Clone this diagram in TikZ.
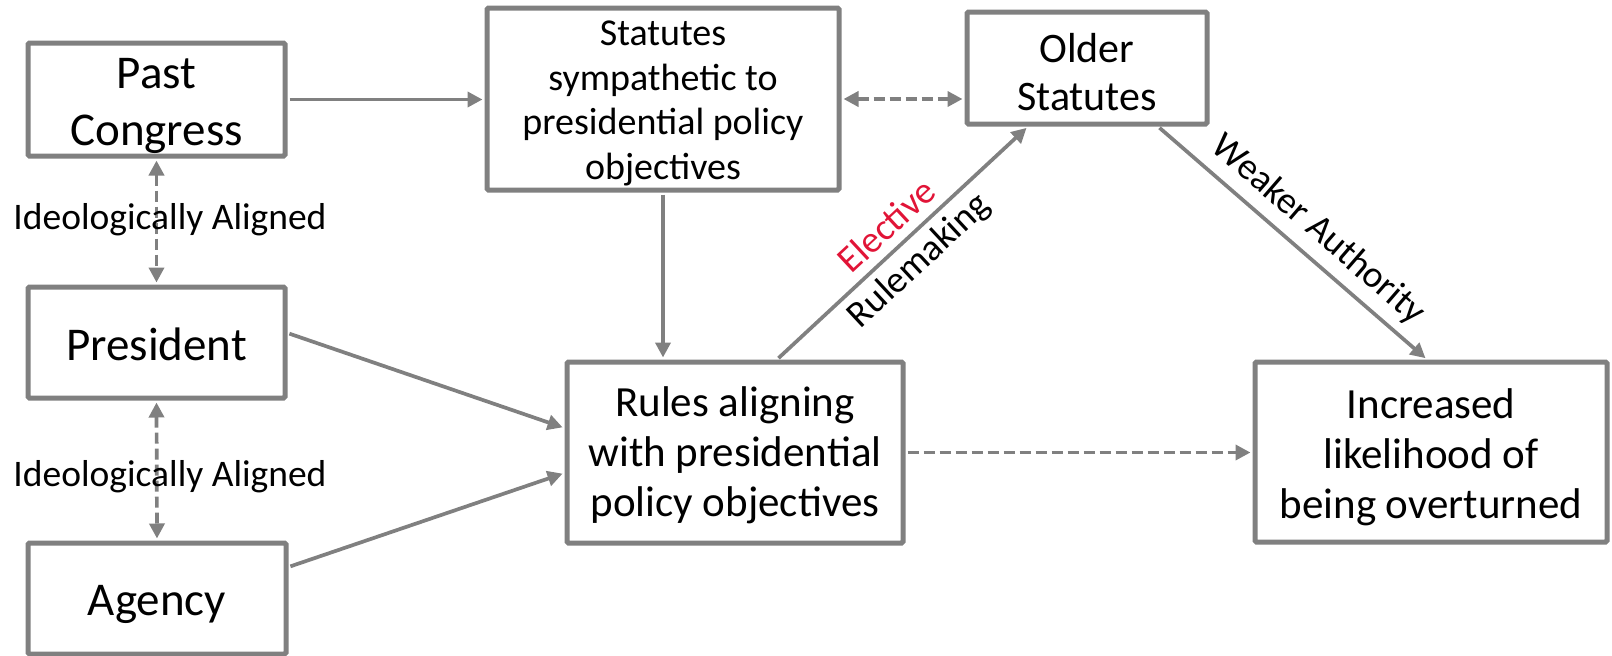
\documentclass[tikz,border=0pt]{standalone}
\usepackage{fontspec}
\setmainfont{Carlito}
\usetikzlibrary{arrows.meta,calc}
\definecolor{linegray}{RGB}{128,128,128}
\definecolor{elred}{RGB}{225,20,55}
\begin{document}
\begin{tikzpicture}[x=1pt,y=-1pt,
  box/.style={draw=linegray, line width=5pt, rounded corners=1.5pt, align=center, inner sep=0pt, text depth=0pt},
  bigtxt/.style={font=\fontsize{47}{57}\selectfont},
  midtxt/.style={font=\fontsize{43}{50}\selectfont},
  oldtxt/.style={font=\fontsize{42}{48}\selectfont},
  smalltxt/.style={font=\fontsize{38}{44.5}\selectfont},
  lbltxt/.style={font=\fontsize{37.5}{44}\selectfont},
  arr/.style={draw=linegray, line width=3.7pt, -{Triangle[length=15pt,width=15pt]}, shorten >=2pt, shorten <=2pt},
  darr/.style={draw=linegray, line width=3.7pt, dash pattern=on 11pt off 5pt, {Triangle[length=15pt,width=15pt]}-{Triangle[length=15pt,width=15pt]}, shorten >=2pt, shorten <=2pt},
  dsarr/.style={draw=linegray, line width=3.7pt, dash pattern=on 11pt off 5pt, -{Triangle[length=15pt,width=15pt]}, shorten >=2pt, shorten <=2pt}
]
\useasboundingbox (0,0) rectangle (1612,656);

\node[box, bigtxt, text height=91pt, minimum width=257pt, minimum height=113pt] (past) at (156.5,99.5) {Past\\Congress};
\node[box, bigtxt, text height=35pt, minimum width=257pt, minimum height=111pt] (pres) at (156.5,342.5) {President};
\node[box, bigtxt, text height=33pt, minimum width=258pt, minimum height=111pt] (agency) at (157,598.5) {Agency};
\node[box, smalltxt, text height=160pt, minimum width=352pt, minimum height=182pt] (stat) at (663,99) {Statutes\\sympathetic to\\presidential policy\\objectives};
\node[box, oldtxt, text height=84pt, minimum width=240pt, minimum height=112pt] (older) at (1087,68) {Older\\Statutes};
\node[box, midtxt, text height=127pt, minimum width=336pt, minimum height=181pt] (rules) at (735,452.5) {Rules aligning\\with presidential\\policy objectives};
\node[box, midtxt, text height=132pt, minimum width=352pt, minimum height=180pt] (incr) at (1431,452) {Increased\\likelihood of\\being overturned};

\draw[darr] (past.south) -- (pres.north);
\draw[darr] (pres.south) -- (agency.north);
\node[lbltxt, anchor=base] (ia1) at (170,229) {Ideologically Aligned};
\node[lbltxt, anchor=base] (ia2) at (170,486) {Ideologically Aligned};

\draw[arr] (past.east) -- (past.east -| stat.west);
\draw[darr] (stat.east) -- (stat.east -| older.west);
\draw[arr] (stat.south) -- (stat.south |- rules.north);
\draw[arr] ($(pres.east)+(0,-9.5)$) -- ($(rules.west)+(0,-24.5)$);
\draw[arr] ($(agency.east)+(0,-31.5)$) -- ($(rules.west)+(0,20.5)$);
\draw[dsarr] (rules.east) -- (rules.east -| incr.west);

\draw[arr] ($(rules.north)+(42,0)$) -- ($(older.south)+(-59,0)$)
  node[midway, sloped, above=9pt, inner sep=0pt, text=elred, lbltxt] (elec) {Elective}
  node[midway, sloped, below=7pt, inner sep=0pt, lbltxt] (rulem) {Rulemaking};
\draw[arr] ($(older.south)+(71,0)$) -- ($(incr.north)+(-4,0)$)
  node[pos=0.53, sloped, above=9pt, inner sep=0pt, lbltxt] (weak) {Weaker Authority};
\end{tikzpicture}
\end{document}
